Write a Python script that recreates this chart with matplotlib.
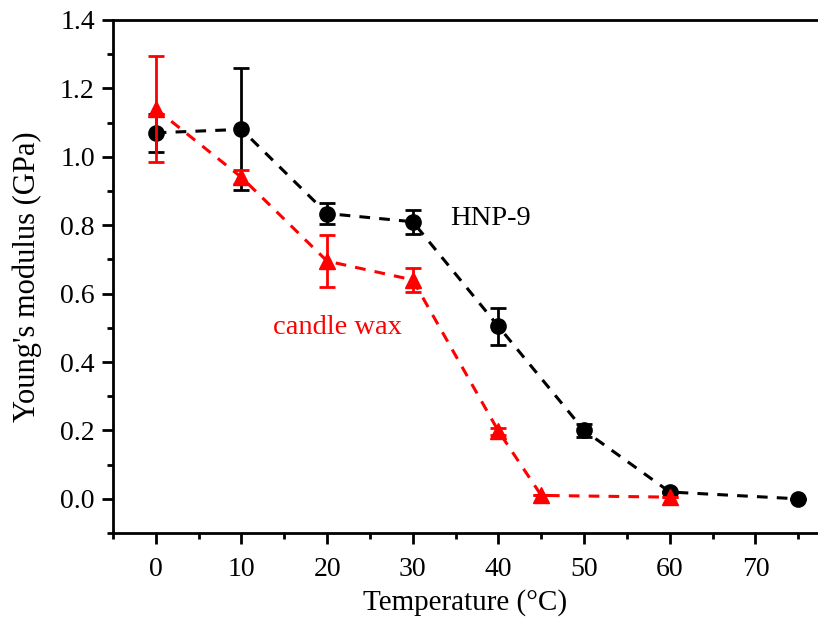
import matplotlib
matplotlib.use('Agg')
import matplotlib.pyplot as plt
from matplotlib.ticker import MultipleLocator, FormatStrFormatter

plt.rcParams['font.family'] = ['Liberation Serif', 'DejaVu Serif']

# HNP-9 (black circles)
hnp_temp = [0, 10, 20, 30, 40, 50, 60, 75]
hnp_mod = [1.07, 1.08, 0.834, 0.81, 0.504, 0.20, 0.02, 0.0]
hnp_err = [0.055, 0.178, 0.03, 0.035, 0.055, 0.02, 0.0, 0.0]

# candle wax (red triangles)
wax_temp = [0, 10, 20, 30, 40, 45, 60]
wax_mod = [1.14, 0.94, 0.695, 0.64, 0.198, 0.01, 0.005]
wax_err = [0.155, 0.02, 0.075, 0.035, 0.01, 0.0, 0.0]

fig = plt.figure(figsize=(8.18, 6.22), dpi=100)
ax = fig.add_axes([0.138, 0.143, 0.862, 0.825])

ax.errorbar(hnp_temp, hnp_mod, yerr=hnp_err, color='black', ls='--', lw=2.2,
            marker='o', ms=11, capsize=6, capthick=2, elinewidth=2,
            dashes=(3.5, 3), zorder=3)
ax.errorbar(wax_temp, wax_mod, yerr=wax_err, color='red', ls='--', lw=2.2,
            marker='^', ms=11, capsize=6, capthick=2, elinewidth=2,
            dashes=(3.5, 3), zorder=4)

ax.text(34.4, 0.82, 'HNP-9', color='black', fontsize=20.5, va='center')
ax.text(21.2, 0.5, 'candle wax', color='red', fontsize=20.5, va='center', ha='center')

ax.set_xlim(-5, 77.3)
ax.set_ylim(-0.1, 1.4)
ax.xaxis.set_major_locator(MultipleLocator(10))
ax.xaxis.set_minor_locator(MultipleLocator(5))
ax.yaxis.set_major_locator(MultipleLocator(0.2))
ax.yaxis.set_minor_locator(MultipleLocator(0.1))
ax.yaxis.set_major_formatter(FormatStrFormatter('%.1f'))

ax.tick_params(which='major', direction='out', length=8, width=2, labelsize=20)
ax.tick_params(axis='x', which='major', pad=9)
ax.tick_params(axis='y', which='major', pad=5)
ax.tick_params(which='minor', direction='out', length=4, width=2)
for s in ['left', 'bottom', 'top']:
    ax.spines[s].set_linewidth(2)
ax.spines['right'].set_visible(False)

ax.set_xlabel('Temperature (°C)', fontsize=21, labelpad=5)
ax.set_ylabel("Young's modulus (GPa)", fontsize=22, labelpad=13)

fig.savefig('out.png', dpi=100, facecolor='white')
